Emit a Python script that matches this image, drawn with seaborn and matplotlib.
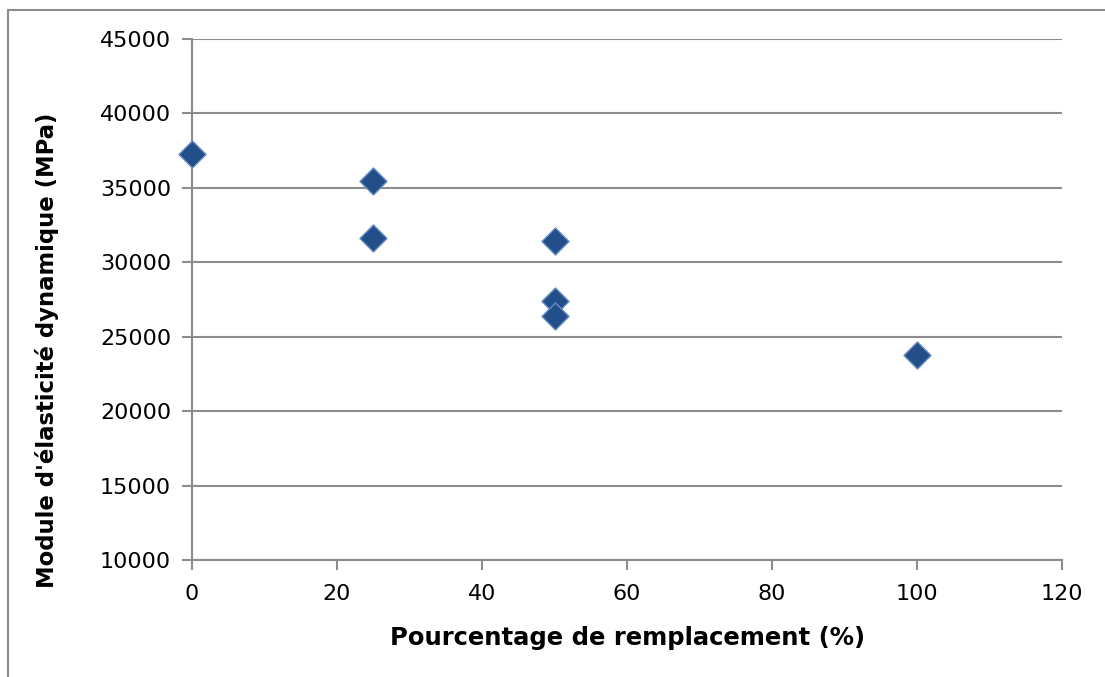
import matplotlib
matplotlib.use("Agg")
import matplotlib.pyplot as plt
import seaborn as sns
import pandas as pd
from matplotlib.lines import Line2D

# Data
replacement_pct = [0, 25, 25, 50, 50, 50, 100]
dynamic_modulus = [37300, 35450, 31620, 31420, 27400, 26400, 23780]

x_ticks = [0, 20, 40, 60, 80, 100, 120]
y_ticks = [10000, 15000, 20000, 25000, 30000, 35000, 40000, 45000]

x_label = "Pourcentage de remplacement (%)"
y_label = "Module d'élasticité dynamique (MPa)"

df = pd.DataFrame({"x": replacement_pct, "y": dynamic_modulus})

sns.set_theme(style="white")
plt.rcParams['font.family'] = ['DejaVu Sans']

W, H = 1105, 677
fig = plt.figure(figsize=(W / 100, H / 100), dpi=100)
ax = fig.add_axes([192 / W, 1 - 560 / H, (1062 - 192) / W, (560 - 39) / H])

sns.scatterplot(data=df, x="x", y="y", ax=ax, marker="D", s=190,
                color="#224e8a", edgecolor="#6a8fc2", linewidth=1.0, zorder=5,
                clip_on=False)

ax.set_xlim(0, 120)
ax.set_ylim(10000, 45000)
ax.set_xticks(x_ticks)
ax.set_yticks(y_ticks)
ax.set_xticklabels([str(v) for v in x_ticks])
ax.set_yticklabels([str(v) for v in y_ticks])

grid_c = "#8c8c8c"
ax.yaxis.grid(True, color=grid_c, linewidth=1.5)
ax.xaxis.grid(False)
ax.set_axisbelow(True)
for side in ["top", "right"]:
    ax.spines[side].set_visible(False)
for side in ["left", "bottom"]:
    ax.spines[side].set_color(grid_c)
    ax.spines[side].set_linewidth(1.5)

ax.tick_params(axis="both", which="major", direction="out", length=7,
               width=1.5, color=grid_c, labelsize=16, labelcolor="black",
               left=True, bottom=True)
ax.tick_params(axis="y", pad=8)
ax.tick_params(axis="x", pad=10)

ax.set_xlabel(x_label, fontsize=17.5, fontweight="bold", color="black",
              va="center", ha="center")
ax.set_ylabel(y_label, fontsize=16.4, fontweight="bold", color="black",
              va="center", ha="center")
ax.xaxis.set_label_coords((628 - 192) / 870, (560 - 638) / 521)
ax.yaxis.set_label_coords((47 - 192) / 870, (560 - 350) / 521)

# outer chart-area border (left and top)
fig.add_artist(Line2D([8 / W, 8 / W], [0, 1 - 10 / H], transform=fig.transFigure,
                      color=grid_c, linewidth=1.5))
fig.add_artist(Line2D([8 / W, 1], [1 - 10 / H, 1 - 10 / H], transform=fig.transFigure,
                      color=grid_c, linewidth=1.5))

fig.savefig("out.png", dpi=100)
